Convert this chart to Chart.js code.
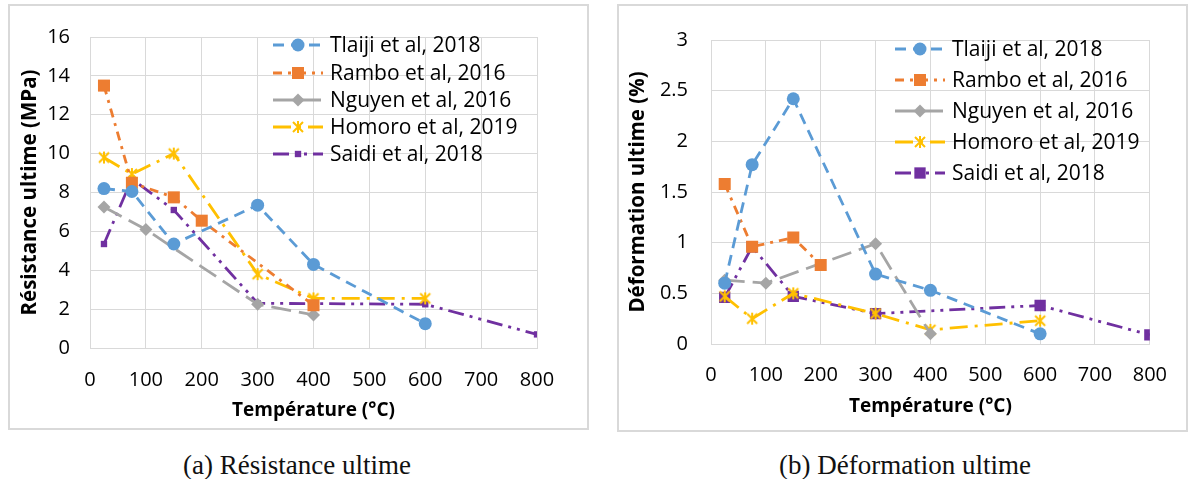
<!DOCTYPE html>
<html>
<head>
<meta charset="utf-8">
<script src="https://cdn.jsdelivr.net/npm/chart.js@4/dist/chart.umd.min.js"></script>
<style>
  body { margin: 0; background: #fff; width: 1189px; height: 479px; position: relative; overflow: hidden; }
  .box { position: absolute; border: 2px solid #d9d9d9; box-sizing: border-box; }
  .caption { position: absolute; font-family: "Liberation Serif", "DejaVu Serif", serif; font-size: 27px; line-height: 1; color: #111; text-align: center; width: 400px; white-space: nowrap; }
</style>
</head>
<body>
<div class="box" style="left:8px; top:4px; width:581px; height:426px;"></div>
<div class="box" style="left:617px; top:4px; width:571px; height:428px;"></div>
<canvas id="resChart" width="578" height="423" style="position:absolute; left:9px; top:5px;"></canvas>
<canvas id="defChart" width="568" height="425" style="position:absolute; left:618px; top:5px;"></canvas>
<div class="caption" style="left:97px; top:452px;">(a) Résistance ultime</div>
<div class="caption" style="left:705px; top:452px;">(b) Déformation ultime</div>
<script>
// series names
const seriesNames = ['Tlaiji et al, 2018', 'Rambo et al, 2016', 'Nguyen et al, 2016', 'Homoro et al, 2019', 'Saidi et al, 2018'];

// Résistance ultime (MPa)
const tlaijiResT = [25, 75, 150, 300, 400, 600];
const tlaijiResV = [8.2, 8.05, 5.35, 7.35, 4.3, 1.25];
const ramboResT = [25, 75, 150, 200, 400];
const ramboResV = [13.5, 8.5, 7.75, 6.55, 2.2];
const nguyenResT = [25, 100, 300, 400];
const nguyenResV = [7.25, 6.1, 2.25, 1.7];
const homoroResT = [25, 75, 150, 300, 400, 600];
const homoroResV = [9.8, 8.95, 10.0, 3.8, 2.55, 2.55];
const saidiResT = [25, 75, 150, 300, 600, 800];
const saidiResV = [5.35, 8.7, 7.1, 2.3, 2.25, 0.7];

// Déformation ultime (%)
const tlaijiDefT = [25, 75, 150, 300, 400, 600];
const tlaijiDefV = [0.6, 1.77, 2.42, 0.69, 0.53, 0.1];
const ramboDefT = [25, 75, 150, 200];
const ramboDefV = [1.58, 0.96, 1.05, 0.78];
const nguyenDefT = [25, 100, 300, 400];
const nguyenDefV = [0.63, 0.6, 0.99, 0.1];
const homoroDefT = [25, 75, 150, 300, 400, 600];
const homoroDefV = [0.47, 0.25, 0.5, 0.3, 0.14, 0.23];
const saidiDefT = [25, 75, 150, 300, 600, 800];
const saidiDefV = [0.46, 0.96, 0.47, 0.3, 0.38, 0.09];

// axis ticks
const tempTicks = [0, 100, 200, 300, 400, 500, 600, 700, 800];
const resTicks = [0, 2, 4, 6, 8, 10, 12, 14, 16];
const defTicks = [0, 0.5, 1, 1.5, 2, 2.5, 3];

const FONT = '"Open Sans", "Noto Sans", sans-serif';
const GRID = '#d9d9d9';

// excel-like asterisk marker
function starMarker(color) {
    const c = document.createElement('canvas');
    c.width = 14; c.height = 14;
    const g = c.getContext('2d');
    g.strokeStyle = color;
    g.lineWidth = 2;
    g.beginPath();
    g.moveTo(2, 2); g.lineTo(12, 12);
    g.moveTo(12, 2); g.lineTo(2, 12);
    g.moveTo(7, 1); g.lineTo(7, 13);
    g.stroke();
    return c;
}
const yellowStar = starMarker('#FFC000');

function pts(xs, ys) {
    return xs.map((x, i) => ({ x: x, y: ys[i] }));
}

const styles = [
    { color: '#5B9BD5', dash: [11, 7], point: 'circle', r: 6.5 },
    { color: '#ED7D31', dash: [9, 6, 3, 6], point: 'rect', r: 8.5 },
    { color: '#A5A5A5', dash: [20, 8], point: 'rectRot', r: 6.5 },
    { color: '#FFC000', dash: [18, 7, 3, 7], point: yellowStar, r: 7 },
    { color: '#7030A0', dash: [16, 6, 3, 6, 3, 6], point: 'rect', r: 6 }
];

function makeDatasets(list, purpleR) {
    return list.map((d, i) => {
        const s = styles[i];
        const r = (i === 4) ? purpleR : s.r;
        return {
            label: seriesNames[i],
            data: d,
            showLine: true,
            borderColor: s.color,
            backgroundColor: s.color,
            borderWidth: 2.8,
            borderDash: s.dash,
            pointStyle: s.point,
            pointRadius: r,
            pointHoverRadius: r,
            pointBorderWidth: 0,
            pointBackgroundColor: s.color,
            tension: 0
        };
    });
}

// legend drawn by hand so the dash + marker show like the original
const handLegend = {
    id: 'handLegend',
    afterDatasetsDraw(chart, args, opts) {
        const ctx = chart.ctx;
        ctx.save();
        chart.data.datasets.forEach((ds, i) => {
            const y = opts.rows[i];
            ctx.strokeStyle = ds.borderColor;
            ctx.lineWidth = 2.8;
            ctx.setLineDash(ds.borderDash);
            ctx.beginPath();
            ctx.moveTo(opts.x0, y);
            ctx.lineTo(opts.x1, y);
            ctx.stroke();
            ctx.setLineDash([]);
            ctx.fillStyle = ds.borderColor;
            Chart.helpers.drawPoint(ctx, {
                pointStyle: ds.pointStyle, radius: ds.pointRadius, rotation: 0, borderWidth: 0
            }, (opts.x0 + opts.x1) / 2, y);
            ctx.fillStyle = '#000';
            ctx.font = '21px ' + FONT;
            ctx.textAlign = 'left';
            ctx.textBaseline = 'middle';
            ctx.fillText(ds.label, opts.tx, y + 1);
        });
        ctx.restore();
    }
};

function makeChart(id, datasets, yMax, yTitle, layout) {
    const ctx = document.getElementById(id).getContext('2d');
    return new Chart(ctx, {
        type: 'scatter',
        data: { datasets: datasets },
        plugins: [handLegend],
        options: {
            responsive: false,
            animation: false,
            layout: { padding: { top: layout.top, right: layout.right, left: 0, bottom: 0 } },
            plugins: {
                legend: { display: false },
                title: { display: false },
                tooltip: { enabled: false },
                handLegend: layout.legend
            },
            scales: {
                x: {
                    type: 'linear',
                    min: tempTicks[0],
                    max: tempTicks[tempTicks.length - 1],
                    afterBuildTicks: (s) => { s.ticks = tempTicks.map(v => ({ value: v })); },
                    afterFit: (s) => { s.height = layout.xHeight; },
                    grid: { color: GRID, lineWidth: 1, drawTicks: false },
                    border: { color: GRID, width: 1 },
                    ticks: { color: '#000', font: { family: FONT, size: 20 }, padding: layout.xPad, maxRotation: 0 },
                    title: {
                        display: true,
                        text: 'Température (°C)',
                        color: '#000',
                        font: { family: FONT, size: 19, weight: 'bold' },
                        padding: { top: 0, bottom: layout.xTitlePad }
                    }
                },
                y: {
                    min: 0,
                    max: yMax,
                    afterBuildTicks: (s) => { s.ticks = (yMax === 16 ? resTicks : defTicks).map(v => ({ value: v })); },
                    afterFit: (s) => { s.width = layout.yWidth; },
                    grid: { color: GRID, lineWidth: 1, drawTicks: false },
                    border: { color: GRID, width: 1 },
                    ticks: {
                        color: '#000',
                        font: { family: FONT, size: 20 },
                        padding: layout.yPad,
                        callback: (v) => String(v)
                    },
                    title: {
                        display: true,
                        text: yTitle,
                        color: '#000',
                        font: { family: FONT, size: 20.5, weight: 'bold' },
                        padding: { top: layout.yTitlePad, bottom: 0 }
                    }
                }
            }
        }
    });
}

makeChart('resChart', makeDatasets([
    pts(tlaijiResT, tlaijiResV),
    pts(ramboResT, ramboResV),
    pts(nguyenResT, nguyenResV),
    pts(homoroResT, homoroResV),
    pts(saidiResT, saidiResV)
], 4.5), 16, 'Résistance ultime (MPa)', {
    top: 23, right: 50, xHeight: 80, yWidth: 81,
    xPad: 20, yPad: 20, xTitlePad: 6, yTitlePad: 9,
    legend: { x0: 264, x1: 314, tx: 321, rows: [40, 68, 95, 122, 149] }
});

makeChart('defChart', makeDatasets([
    pts(tlaijiDefT, tlaijiDefV),
    pts(ramboDefT, ramboDefV),
    pts(nguyenDefT, nguyenDefV),
    pts(homoroDefT, homoroDefV),
    pts(saidiDefT, saidiDefV)
], 8), 3, 'Déformation ultime (%)', {
    top: 21, right: 28, xHeight: 86, yWidth: 93,
    xPad: 19, yPad: 23, xTitlePad: 12, yTitlePad: 8,
    legend: { x0: 277, x1: 327, tx: 334, rows: [44, 75, 106, 137, 168] }
});
</script>
</body>
</html>
